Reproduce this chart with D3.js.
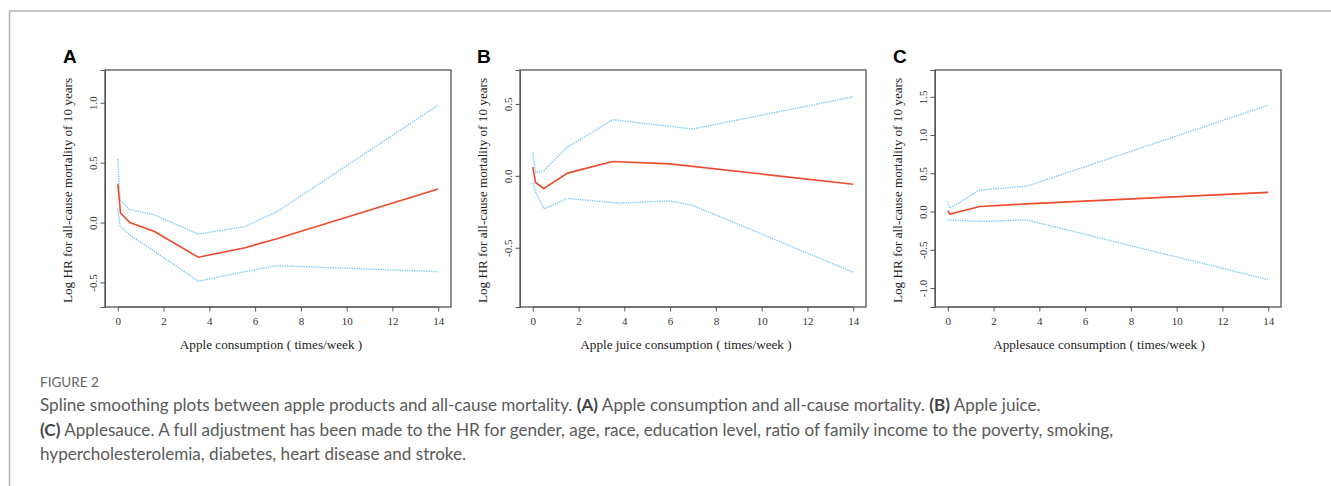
<!DOCTYPE html>
<html><head><meta charset="utf-8">
<script src="https://cdn.jsdelivr.net/npm/d3@7"></script>
<style>body{margin:0;background:#fff;} svg{display:block;}</style>
</head><body>
<svg id="c" width="1331" height="486"></svg>
<script>
// ---------- DATA ----------
const xTicks = [0, 2, 4, 6, 8, 10, 12, 14];

const aTicksY = [-0.5, 0.0, 0.5, 1.0];
const aFit   = [[0,0.32],[0.12,0.08],[0.53,0.0],[1.6,-0.075],[3.52,-0.29],[5.56,-0.21],[6.95,-0.135],[14,0.28]];
const aUpper = [[0,0.53],[0.1,0.19],[0.5,0.11],[1.6,0.064],[3.52,-0.097],[5.56,-0.033],[6.95,0.09],[14,0.98]];
const aLower = [[0,0.12],[0.1,-0.03],[0.5,-0.10],[1.6,-0.24],[3.52,-0.49],[5.56,-0.41],[6.95,-0.36],[14,-0.41]];

const bTicksY = [-0.5, 0.0, 0.5];
const bFit   = [[0,0.06],[0.12,-0.046],[0.48,-0.088],[1.52,0.019],[3.48,0.10],[5.99,0.083],[14,-0.058]];
const bUpper = [[0,0.165],[0.12,0.023],[0.48,0.037],[1.52,0.20],[3.5,0.39],[7.0,0.326],[14,0.55]];
const bLower = [[0,-0.046],[0.12,-0.11],[0.48,-0.23],[1.52,-0.157],[3.8,-0.19],[6.0,-0.174],[7.0,-0.206],[14,-0.67]];

const cTicksY = [-1.0, -0.5, 0.0, 0.5, 1.0, 1.5];
const cFit   = [[0,0.013],[0.09,-0.034],[1.4,0.065],[3.45,0.10],[14,0.25]];
const cUpper = [[0,0.13],[0.08,0.044],[1.4,0.28],[3.45,0.33],[14,1.39]];
const cLower = [[0,-0.11],[1.4,-0.13],[3.45,-0.11],[14,-0.89]];

const panelLetters = ["A", "B", "C"];
const xTitles = ["Apple consumption ( times/week )", "Apple juice consumption ( times/week )", "Applesauce consumption ( times/week )"];
const yTitle = "Log HR for all-cause mortality of 10 years";

const captionHead = "FIGURE 2";
const captionLines = [
  [["Spline smoothing plots between apple products and all-cause mortality. ",0],["(A)",1],[" Apple consumption and all-cause mortality. ",0],["(B)",1],[" Apple juice.",0]],
  [["(C)",1],[" Applesauce. A full adjustment has been made to the HR for gender, age, race, education level, ratio of family income to the poverty, smoking,",0]],
  [["hypercholesterolemia, diabetes, heart disease and stroke.",0]]
];

// ---------- LAYOUT ----------
const svg = d3.select("#c");
const RED = "#ee4a2b", BLUE = "#7fcbf0";

// outer frame
svg.append("line").attr("x1",9).attr("x2",1331).attr("y1",11).attr("y2",11).attr("stroke","#b3b3b3").attr("stroke-width",1.5);
svg.append("line").attr("x1",9.5).attr("x2",9.5).attr("y1",11).attr("y2",486).attr("stroke","#b3b3b3").attr("stroke-width",1.5);

const panels = [
  {x0:105, x1:451, yDom:[-0.705,1.273], ticksY:aTicksY, fit:aFit, up:aUpper, lo:aLower, lx:63, xt:271},
  {x0:520, x1:866, yDom:[-0.912,0.736], ticksY:bTicksY, fit:bFit, up:bUpper, lo:bLower, lx:477, xt:686},
  {x0:935, x1:1281, yDom:[-1.248,1.85], ticksY:cTicksY, fit:cFit, up:cUpper, lo:cLower, lx:893, xt:1099}
];
const y0 = 70, y1 = 307;
const serif = "'Liberation Serif','Times New Roman',serif";

panels.forEach((p, i) => {
  const x = d3.scaleLinear().domain([-0.56, 14.56]).range([p.x0, p.x1]);
  const y = d3.scaleLinear().domain(p.yDom).range([y1, y0]);
  const g = svg.append("g");

  // x axis
  const gx = g.append("g").attr("transform", `translate(0,${y1})`)
    .call(d3.axisBottom(x).tickValues(xTicks).tickSize(4.5).tickPadding(5.5).tickFormat(d3.format("d")));
  gx.select(".domain").attr("d", `M${x(0)},0H${x(14)}`).attr("stroke","#555");
  gx.selectAll(".tick line").attr("stroke","#555");
  gx.selectAll("text").attr("font-family", serif).attr("font-size", 11).attr("fill","#333");

  // y axis
  const gy = g.append("g").attr("transform", `translate(${p.x0},0)`)
    .call(d3.axisLeft(y).tickValues(p.ticksY).tickSize(4.5).tickFormat(d => d.toFixed(1)));
  gy.select(".domain").attr("stroke","#555");
  gy.selectAll(".tick line").attr("stroke","#555");
  gy.selectAll(".tick text")
    .attr("font-family", serif).attr("font-size", 11).attr("fill","#333")
    .attr("x", null).attr("dy", null)
    .attr("text-anchor","middle").attr("dominant-baseline","central")
    .attr("transform","translate(-12,0) rotate(-90)");

  // box
  g.append("rect").attr("x",p.x0).attr("y",y0).attr("width",p.x1-p.x0).attr("height",y1-y0)
    .attr("fill","none").attr("stroke","#555").attr("stroke-width",1.3);

  const line = d3.line().x(d => x(d[0])).y(d => y(d[1]));
  g.append("path").datum(p.up).attr("d", line).attr("fill","none").attr("stroke",BLUE).attr("stroke-width",1.4).attr("stroke-dasharray","1.4,1");
  g.append("path").datum(p.lo).attr("d", line).attr("fill","none").attr("stroke",BLUE).attr("stroke-width",1.4).attr("stroke-dasharray","1.4,1");
  g.append("path").datum(p.fit).attr("d", line).attr("fill","none").attr("stroke",RED).attr("stroke-width",1.6);

  // letter
  g.append("text").attr("x", p.lx).attr("y", 63).text(panelLetters[i])
    .attr("font-family","'Liberation Sans',Arial,sans-serif").attr("font-weight","bold").attr("font-size",19).attr("fill","#000");

  // y title
  g.append("text").attr("transform", `translate(${p.x0-38},${(y0+y1)/2+2}) rotate(-90)`)
    .attr("text-anchor","middle").attr("dominant-baseline","central")
    .attr("font-family", serif).attr("font-size", 13.2).attr("fill","#222").text(yTitle);

  // x title
  g.append("text").attr("x", p.xt).attr("y", 344).attr("text-anchor","middle").attr("dominant-baseline","central")
    .attr("font-family", serif).attr("font-size", 13.2).attr("fill","#222").text(xTitles[i]);
});

// caption
const capFont = "Lato, 'Open Sans', sans-serif";
svg.append("text").attr("x",40).attr("y",387).text(captionHead)
  .attr("font-family",capFont).attr("font-size",13.5).attr("fill","#666");
const lineY = [411, 436, 460];
captionLines.forEach((ln, i) => {
  const t = svg.append("text").attr("x",40).attr("y",lineY[i]).attr("font-family",capFont).attr("font-size",17.1).attr("fill","#5a5a5a");
  ln.forEach(([s,b]) => {
    t.append("tspan").text(s).attr("font-weight", b ? "bold" : "normal").attr("fill", b ? "#444" : "#5a5a5a");
  });
});
</script>
</body></html>
